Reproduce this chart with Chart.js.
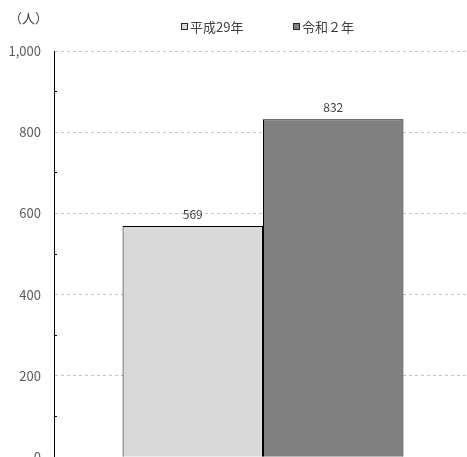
<!DOCTYPE html>
<html lang="ja">
<head>
<meta charset="utf-8">
<script src="https://cdn.jsdelivr.net/npm/chart.js@4"></script>
<style>
  html, body { margin: 0; padding: 0; background: #fff; }
  #wrap { position: relative; width: 467px; height: 457px; overflow: hidden; }
  canvas { display: block; }
</style>
</head>
<body>
<div id="wrap"><canvas id="c" width="472" height="481"></canvas></div>
<script>
// 人数（単位：人）
const categories = [''];
const seriesNames = ['平成29年', '令和２年'];
const valuesH29 = [569];
const valuesR2 = [832];
const unitLabel = '（人）';
const yMin = 0, yMax = 1000, yStep = 100, yLabelStep = 200;

const FONT_NUM = '"Liberation Sans Narrow", "Noto Sans CJK JP", sans-serif';
const FONT_JP = '"Noto Sans CJK JP", sans-serif';

// 棒の上に値、左上に単位、上部に凡例を描く
const annotate = {
  id: 'annotate',
  afterDatasetsDraw(chart) {
    const ctx = chart.ctx;
    ctx.save();
    ctx.fillStyle = '#404040';
    ctx.font = '12px ' + FONT_NUM;
    ctx.textAlign = 'center';
    ctx.textBaseline = 'bottom';
    chart.data.datasets.forEach((ds, i) => {
      chart.getDatasetMeta(i).data.forEach((bar, j) => {
        ctx.fillText(String(ds.data[j]), bar.x, bar.y - 6);
      });
    });
    ctx.restore();
  },
  afterDraw(chart) {
    const ctx = chart.ctx;
    ctx.save();
    ctx.fillStyle = '#404040';
    ctx.font = '13px ' + FONT_JP;
    ctx.textBaseline = 'middle';
    ctx.textAlign = 'left';
    ctx.fillText(unitLabel, 9, 18);

    // 凡例
    const legendX = [181, 293];
    chart.data.datasets.forEach((ds, i) => {
      const x = legendX[i];
      ctx.fillStyle = ds.backgroundColor;
      ctx.fillRect(x + 0.5, 23.5, 6, 6);
      ctx.strokeStyle = '#262626';
      ctx.lineWidth = 1;
      ctx.strokeRect(x + 0.5, 23.5, 6, 6);
      ctx.fillStyle = '#404040';
      ctx.fillText(ds.label, x + 9, 27);
    });
    ctx.restore();
  }
};

new Chart(document.getElementById('c'), {
  type: 'bar',
  data: {
    labels: categories,
    datasets: [
      { label: seriesNames[0], data: valuesH29, backgroundColor: '#d9d9d9', borderColor: '#000', borderWidth: 1 },
      { label: seriesNames[1], data: valuesR2, backgroundColor: '#808080', borderColor: '#000', borderWidth: 1 }
    ]
  },
  options: {
    responsive: false,
    animation: false,
    devicePixelRatio: 1,
    layout: { padding: { top: 51, left: 0, right: 0, bottom: 14 } },
    datasets: { bar: { barPercentage: 1, categoryPercentage: 0.672 } },
    plugins: { legend: { display: false }, tooltip: { enabled: false } },
    scales: {
      x: { display: false },
      y: {
        min: yMin, max: yMax,
        afterFit(scale) { scale.width = 54; },
        ticks: {
          stepSize: yStep,
          padding: 16,
          color: '#595959',
          font: { family: FONT_NUM, size: 13 },
          callback: v => (v % yLabelStep === 0 ? v.toLocaleString('en-US') : '')
        },
        // 目盛線は破線、軸線は実線
        border: { display: true, color: '#000', width: 1, dash: [3, 3] },
        grid: {
          drawTicks: true,
          tickLength: -3,
          color: c => (c.tick && c.tick.value % yLabelStep === 0 ? '#c4c4c4' : 'rgba(0,0,0,0)'),
          tickColor: c => (c.tick && c.tick.value % yLabelStep === 0 ? 'rgba(0,0,0,0)' : '#000'),
          tickBorderDash: [],
          lineWidth: 1
        }
      }
    }
  },
  plugins: [annotate]
});
</script>
</body>
</html>
